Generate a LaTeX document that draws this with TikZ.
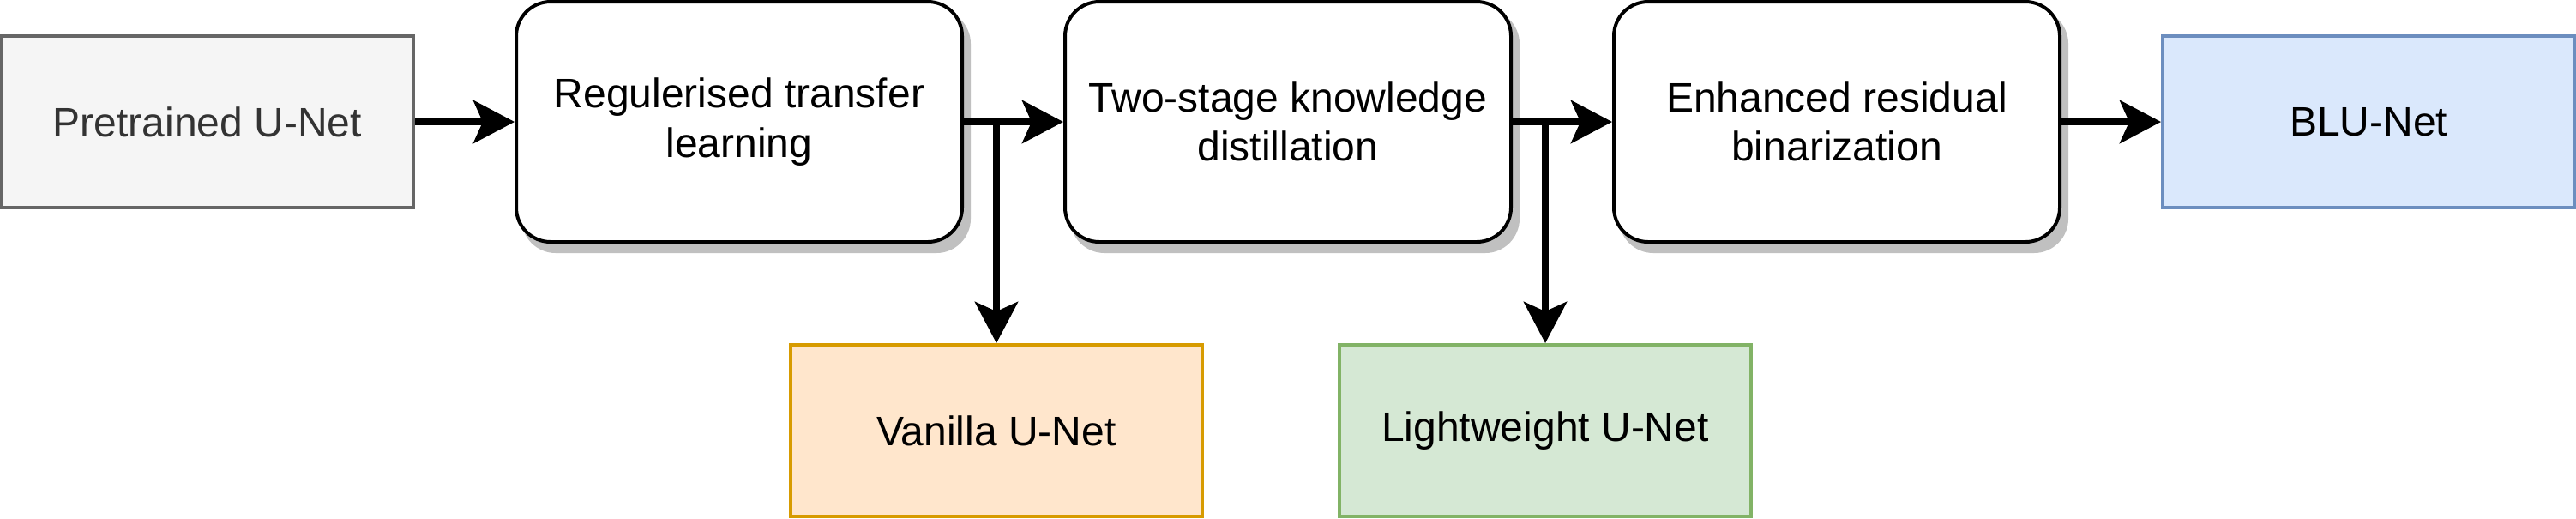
\documentclass[tikz,border=0pt]{standalone}
\usepackage{fontspec}
\setmainfont{Liberation Sans}
\usetikzlibrary{arrows.meta,backgrounds}
\definecolor{pgfill}{HTML}{F5F5F5}
\definecolor{pgdraw}{HTML}{666666}
\definecolor{pgtext}{HTML}{333333}
\definecolor{orfill}{HTML}{FFE6CC}
\definecolor{ordraw}{HTML}{D79B00}
\definecolor{grfill}{HTML}{D5E8D4}
\definecolor{grdraw}{HTML}{82B366}
\definecolor{blfill}{HTML}{DAE8FC}
\definecolor{bldraw}{HTML}{6C8EBF}
\definecolor{shadowc}{HTML}{C0C0C0}
\tikzset{
  base/.style={draw, line width=1pt, align=center, inner sep=0pt,
    font=\fontsize{12}{14.4}\selectfont},
  plainbox/.style={base, minimum width=120pt, minimum height=50pt},
  stagebox/.style={base, fill=white, rounded corners=10pt, minimum width=130pt, minimum height=70pt},
  arr/.style={line width=2pt, -{Stealth[length=12pt,width=12.5pt,inset=2.75pt]}},
  joinline/.style={line width=2pt},
}
\begin{document}
\begin{tikzpicture}[x=1pt,y=-1pt]
\useasboundingbox (0,0) rectangle (751,151);
\node[plainbox, fill=pgfill, draw=pgdraw, text=pgtext] (P) at (60.5,35.5) {Pretrained U-Net};
\node[stagebox] (R) at (215.5,35.5) {Regulerised transfer\\learning};
\node[stagebox] (T) at (375.5,35.5) {Two-stage knowledge\\distillation};
\node[stagebox] (E) at (535.5,35.5) {Enhanced residual\\binarization};
\node[plainbox, fill=blfill, draw=bldraw] (B) at (690.5,35.5) {BLU-Net};
\node[plainbox, fill=orfill, draw=ordraw] (V) at (290.5,125.5) {Vanilla U-Net};
\node[plainbox, fill=grfill, draw=grdraw] (L) at (450.5,125.5) {Lightweight U-Net};
\begin{scope}[on background layer]
  \foreach \n in {R,T,E}{
    \fill[shadowc, rounded corners=10pt] ([shift={(2,2.75)}]\n.north west) rectangle ([shift={(2,2.75)}]\n.south east);
  }
\end{scope}
\coordinate (b1) at (V.north |- R.east);
\coordinate (b2) at (L.north |- T.east);
\draw[arr] (P.east) -- (R.west);
\draw[arr] (R.east) -- (T.west);
\draw[arr] (T.east) -- (E.west);
\draw[arr] (E.east) -- (B.west);
\draw[arr] (b1) -- (V.north);
\draw[arr] (b2) -- (L.north);
\end{tikzpicture}
\end{document}
